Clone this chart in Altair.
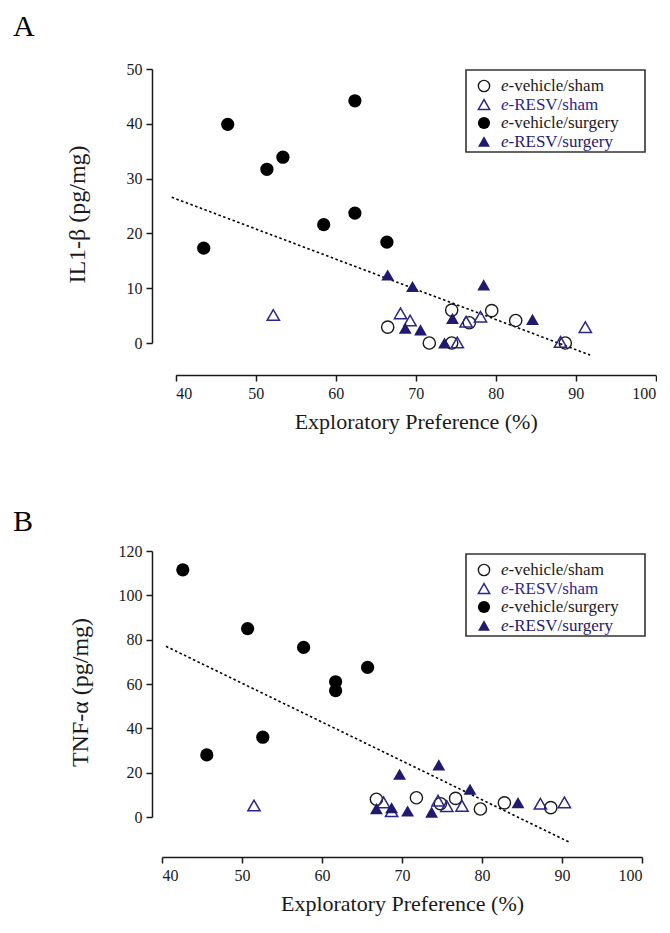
import altair as alt
import pandas as pd

FONT = "Liberation Serif"
INK = "#1a1a1a"
NAVY = "#1f1a6e"
NAVY_OPEN = "#2a268a"

groups = ["e-vehicle/sham", "e-RESV/sham", "e-vehicle/surgery", "e-RESV/surgery"]

# ---------------- Panel A : IL1-beta ----------------
a_veh_sham_x = [66.5, 71.7, 74.5, 74.5, 76.7, 79.5, 82.5, 88.7]
a_veh_sham_y = [2.9, 0.0, 0.0, 6.0, 3.7, 5.9, 4.1, 0.0]
a_resv_sham_x = [52.2, 68.1, 69.3, 75.2, 76.3, 78.1, 88.1, 91.2]
a_resv_sham_y = [5.1, 5.4, 4.1, 0.1, 3.9, 4.8, 0.2, 2.9]
a_veh_surg_x = [43.5, 46.5, 51.4, 53.4, 58.5, 62.4, 62.4, 66.4]
a_veh_surg_y = [17.3, 39.9, 31.7, 33.9, 21.6, 23.7, 44.2, 18.4]
a_resv_surg_x = [66.5, 68.7, 69.6, 70.6, 73.6, 74.6, 78.5, 84.6]
a_resv_surg_y = [12.4, 2.7, 10.3, 2.4, 0.0, 4.5, 10.6, 4.3]
a_fit_x = [39.5, 91.8]
a_fit_y = [26.6, -2.2]

# ---------------- Panel B : TNF-alpha ----------------
b_veh_sham_x = [66.8, 71.8, 74.8, 76.7, 79.8, 82.8, 88.6]
b_veh_sham_y = [8.0, 8.7, 6.0, 8.4, 3.6, 6.4, 4.2]
b_resv_sham_x = [51.5, 67.7, 68.7, 74.5, 75.6, 77.5, 87.3, 90.3]
b_resv_sham_y = [5.2, 6.6, 2.6, 7.4, 4.9, 5.0, 6.0, 6.6]
b_veh_surg_x = [42.6, 45.6, 50.7, 52.6, 57.7, 61.7, 61.7, 65.7]
b_veh_surg_y = [111.5, 28.0, 85.0, 36.0, 76.5, 61.0, 57.0, 67.5]
b_resv_surg_x = [66.8, 68.7, 69.7, 70.7, 73.7, 74.6, 78.5, 84.5]
b_resv_surg_y = [3.8, 4.2, 19.3, 2.7, 2.2, 23.5, 12.5, 6.5]
b_fit_x = [40.5, 91.0]
b_fit_y = [77.0, -11.5]

x_ticks = [40, 50, 60, 70, 80, 90, 100]
a_y_ticks = [0, 10, 20, 30, 40, 50]
b_y_ticks = [0, 20, 40, 60, 80, 100, 120]

styles = {
    "e-vehicle/sham": dict(shape="circle", filled=False, stroke=INK, strokeWidth=1.4, size=150, fill="white", fillOpacity=0),
    "e-RESV/sham": dict(shape="triangle-up", filled=False, stroke=NAVY_OPEN, strokeWidth=1.5, size=150, fill="white", fillOpacity=0),
    "e-vehicle/surgery": dict(shape="circle", filled=True, color="black", size=175, opacity=1),
    "e-RESV/surgery": dict(shape="triangle-up", filled=True, color=NAVY, size=165, opacity=1),
}
label_colors = {
    "e-vehicle/sham": INK,
    "e-RESV/sham": NAVY_OPEN,
    "e-vehicle/surgery": INK,
    "e-RESV/surgery": NAVY,
}


def one():
    return pd.DataFrame({"k": [0]})


def panel(xs, ys, fit_x, fit_y, y_ticks, y_dom, y_title, x_range, height,
          x_offset, y_title_pad, letter, letter_y, legend_box):
    rows = []
    for g, gx, gy in zip(groups, xs, ys):
        for x, y in zip(gx, gy):
            rows.append({"group": g, "x": x, "y": y})
    df = pd.DataFrame(rows)
    fit = pd.DataFrame({"x": fit_x, "y": fit_y})

    X = alt.X("x:Q", scale=alt.Scale(domain=[40, 100], range=x_range, nice=False, zero=False),
              axis=alt.Axis(values=x_ticks, title="Exploratory Preference (%)",
                            offset=x_offset, titlePadding=10, titleFontSize=22))
    Y = alt.Y("y:Q", scale=alt.Scale(domain=y_dom, nice=False, zero=False),
              axis=alt.Axis(values=y_ticks, title=y_title, offset=10,
                            titlePadding=y_title_pad, titleFontSize=24,
                            titleY=height / 2 + 8))

    layers = [alt.Chart(fit).mark_line(color="black", strokeDash=[2.5, 2.5], strokeWidth=1.6,
                                       clip=False).encode(x=X, y=Y)]
    for g in groups:
        layers.append(alt.Chart(df).transform_filter(alt.datum.group == g)
                      .mark_point(**styles[g]).encode(x=X, y=Y))

    # legend box (decoration, drawn in plot pixel space)
    bx0, by0, bx1, by1 = legend_box
    layers.append(alt.Chart(one()).mark_rect(fill="white", fillOpacity=0, stroke="#333333",
                                             strokeWidth=1.6)
                  .encode(x=alt.value(bx0), x2=alt.value(bx1), y=alt.value(by0), y2=alt.value(by1)))
    for i, g in enumerate(groups):
        ry = by0 + 16 + i * 18.5
        st = dict(styles[g])
        st["size"] = st["size"] * 0.85
        layers.append(alt.Chart(one()).mark_point(**st)
                      .encode(x=alt.value(bx0 + 18), y=alt.value(ry)))
        layers.append(alt.Chart(one()).mark_text(text="e", font=FONT, fontSize=17, fontStyle="italic",
                                                 align="left", baseline="middle", color=label_colors[g])
                      .encode(x=alt.value(bx0 + 35), y=alt.value(ry)))
        layers.append(alt.Chart(one()).mark_text(text=g[1:], font=FONT, fontSize=17,
                                                 align="left", baseline="middle", color=label_colors[g])
                      .encode(x=alt.value(bx0 + 42.5), y=alt.value(ry)))
    layers.append(alt.Chart(one()).mark_text(text=letter, font=FONT, fontSize=30, align="left",
                                             baseline="alphabetic", color="black")
                  .encode(x=alt.value(-149), y=alt.value(letter_y)))
    return alt.layer(*layers).properties(width=494, height=height)


chart_a = panel([a_veh_sham_x, a_resv_sham_x, a_veh_surg_x, a_resv_surg_x],
                [a_veh_sham_y, a_resv_sham_y, a_veh_surg_y, a_resv_surg_y],
                a_fit_x, a_fit_y, a_y_ticks, [0, 50], "IL1-β (pg/mg)",
                [13.7, 493.7], 274, 32, 37, "A", -33, (304, 1, 483, 83))
chart_b = panel([b_veh_sham_x, b_resv_sham_x, b_veh_surg_x, b_resv_surg_x],
                [b_veh_sham_y, b_resv_sham_y, b_veh_surg_y, b_resv_surg_y],
                b_fit_x, b_fit_y, b_y_ticks, [0, 120], "TNF-α (pg/mg)",
                [0, 480], 266, 40, 26, "B", -20, (304, 3, 483, 85))

chart = alt.vconcat(chart_a, chart_b, spacing=75).properties(
    padding={"left": 5, "top": 4, "right": 0, "bottom": 10}
).configure_view(stroke=None).configure_axis(
    grid=False, domainColor=INK, tickColor=INK, domainWidth=1.5, tickWidth=1.5, tickSize=6,
    labelFont=FONT, labelFontSize=16, labelColor=INK, labelPadding=4,
    titleFont=FONT, titleFontWeight="normal", titleColor=INK,
)

chart.save("out.html", embed_options={"renderer": "svg", "actions": False})
